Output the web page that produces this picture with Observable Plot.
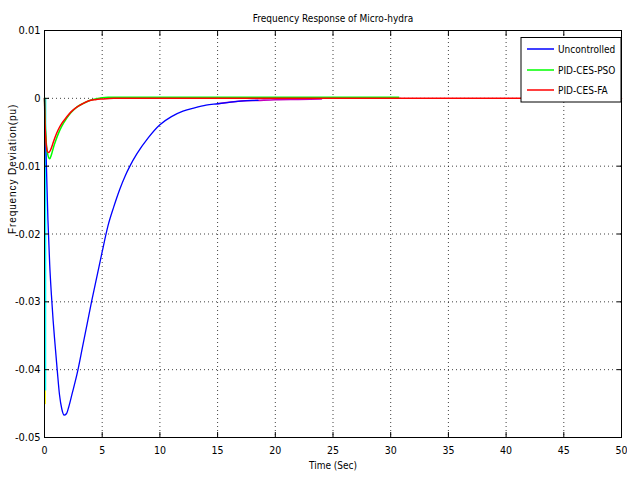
<!DOCTYPE html>
<html>
<head>
<meta charset="utf-8">
<script src="https://cdn.jsdelivr.net/npm/d3@7"></script>
<script src="https://cdn.jsdelivr.net/npm/@observablehq/plot@0.6"></script>
<style>
  body { margin: 0; background: #fff; }
  #chart { position: relative; width: 627px; height: 479px; }
</style>
</head>
<body>
<div id="chart"></div>
<script>
// ---- texts ----
const chartTitle = "Frequency Response of Micro-hydra";
const xLabel = "Time (Sec)";
const yLabel = "Frequency Deviation(pu)";

// ---- ticks ----
const xTicks = [0, 5, 10, 15, 20, 25, 30, 35, 40, 45, 50];
const yTicks = [0.01, 0, -0.01, -0.02, -0.03, -0.04, -0.05];
const yTickLabels = ["0.01", "0", "-0.01", "-0.02", "-0.03", "-0.04", "-0.05"];

// ---- legend ----
const seriesNames = ["Uncontrolled", "PID-CES-PSO", "PID-CES-FA"];
const seriesColors = ["#0000ff", "#00ff00", "#ff0000"];

// ---- series: Uncontrolled ----
const uncontrolledTime = [0, 0.05, 0.15, 0.3, 0.45, 0.6, 0.75, 0.9, 1.1, 1.3, 1.5, 1.7, 1.9, 2.1, 2.4, 2.85, 3.3, 3.7, 4.1, 4.6, 5.0, 5.5, 6.0, 6.5, 7.0, 7.4, 8, 9, 10, 11, 12, 13, 14, 15, 16, 17, 18.5];
const uncontrolledValue = [0, -0.003, -0.009, -0.018, -0.0245, -0.029, -0.0328, -0.036, -0.040, -0.0437, -0.0458, -0.0467, -0.0465, -0.0455, -0.0435, -0.0404, -0.0366, -0.0332, -0.0298, -0.0258, -0.0226, -0.0188, -0.016, -0.0135, -0.0114, -0.010, -0.0082, -0.0058, -0.0039, -0.0027, -0.0019, -0.0014, -0.0010, -0.0008, -0.0006, -0.0004, -0.0003];

// ---- series: PID-CES-PSO ----
const psoTime = [0, 0.05, 0.15, 0.3, 0.45, 0.6, 0.8, 1.0, 1.2, 1.5, 1.9, 2.3, 2.8, 3.3, 3.8, 4.4, 5.0, 5.5, 10, 20, 30.7];
const psoValue = [0, -0.003, -0.0065, -0.0084, -0.0089, -0.0083, -0.0071, -0.0061, -0.0052, -0.0041, -0.0030, -0.0021, -0.0013, -0.0008, -0.0004, -0.0001, 0.0001, 0.00015, 0.00015, 0.00015, 0.00015];

// ---- series: PID-CES-FA ----
const faTime = [0, 0.03, 0.12, 0.25, 0.36, 0.5, 0.7, 0.9, 1.2, 1.5, 1.9, 2.3, 2.8, 3.3, 3.8, 4.4, 5.0, 6, 50];
const faValue = [0, -0.0028, -0.0062, -0.0078, -0.0080, -0.0077, -0.0068, -0.0058, -0.0046, -0.0037, -0.0028, -0.0020, -0.0013, -0.0008, -0.0004, -0.0002, -0.0001, 0, 0];

// ---- unlabeled traces visible in the picture ----
const magentaTime = [15, 17, 18.5, 20, 22, 24];
const magentaValue = [-0.0008, -0.0004, -0.0003, -0.0002, -0.00015, -0.0001];
const yellowTime = [0.06, 0.07, 0.08];
const yellowValue = [0, -0.045, 0];
const cyanTime = [0.09, 0.1, 0.11];
const cyanValue = [0, -0.043, 0];

const toRows = (ts, vs) => ts.map((t, i) => ({t, v: vs[i]}));

const W = 627, H = 479;
const narrow = "'Liberation Sans Narrow', 'DejaVu Sans Condensed', 'Liberation Sans', sans-serif";
const dotted = {stroke: "#000", strokeOpacity: 0.75, strokeDasharray: "1,3"};
const lineOpts = (color, w = 1.3) => ({x: "t", y: "v", stroke: color, strokeWidth: w, curve: "monotone-x"});

const plot = Plot.plot({
  width: W,
  height: H,
  marginLeft: 44,
  marginRight: 6,
  marginTop: 30,
  marginBottom: 42,
  style: {fontFamily: narrow, fontSize: "11px", background: "white", color: "black", overflow: "visible"},
  x: {domain: [0, 50], label: null},
  y: {domain: [-0.05, 0.01], label: null},
  marks: [
    Plot.gridX(xTicks, dotted),
    Plot.gridY(yTicks, dotted),
    Plot.line(toRows(yellowTime, yellowValue), lineOpts("#ffff00", 1.2)),
    Plot.line(toRows(cyanTime, cyanValue), lineOpts("#00ffff", 1.2)),
    Plot.line(toRows(magentaTime, magentaValue), lineOpts("#c000c0", 1.6)),
    Plot.line(toRows(uncontrolledTime, uncontrolledValue), lineOpts(seriesColors[0])),
    Plot.line(toRows(psoTime, psoValue), lineOpts(seriesColors[1], 1.5)),
    Plot.line(toRows(faTime, faValue), lineOpts(seriesColors[2], 1.5)),
    Plot.frame({stroke: "black"}),
    // tick labels
    Plot.axisX(xTicks, {anchor: "bottom", tickSize: 0, tickPadding: 9, label: null, fontSize: 10.5}),
    Plot.axisY(yTicks, {anchor: "left", tickSize: 0, tickPadding: 4, label: null, fontSize: 11,
      tickFormat: d => yTickLabels[yTicks.indexOf(d)]}),
    // inward tick marks on all four sides
    Plot.axisX(xTicks, {anchor: "bottom", tickSize: -5, fill: "none", label: null}),
    Plot.axisX(xTicks, {anchor: "top", tickSize: -5, fill: "none", label: null}),
    Plot.axisY(yTicks, {anchor: "left", tickSize: -5, fill: "none", label: null}),
    Plot.axisY(yTicks, {anchor: "right", tickSize: -5, fill: "none", label: null}),
    // title and axis labels
    Plot.text([chartTitle], {frameAnchor: "top", text: d => d, dy: -16, fontSize: 10}),
    Plot.text([xLabel], {frameAnchor: "bottom", text: d => d, dy: 31, fontSize: 10}),
    Plot.text([yLabel], {frameAnchor: "left", text: d => d, dx: -32, rotate: -90, fontSize: 10,
      fontFamily: "'Liberation Sans', sans-serif"})
  ]
});

document.getElementById("chart").appendChild(plot);

const svg = d3.select(plot);
// widen the letter spacing of the y label, as in the reference
svg.selectAll("text").filter(function () { return this.textContent === yLabel; })
  .style("letter-spacing", "0.9px");

// ---- legend box (inside plot, top-right) ----
const lg = svg.append("g").attr("font-family", narrow).attr("font-size", 10).attr("text-anchor", "start");
lg.append("rect").attr("x", 521).attr("y", 37.5).attr("width", 100).attr("height", 64.5)
  .attr("fill", "white").attr("stroke", "black").attr("stroke-width", 1);
const rowY = [49, 70, 90];
seriesNames.forEach((name, i) => {
  lg.append("line").attr("x1", 527).attr("x2", 554).attr("y1", rowY[i]).attr("y2", rowY[i])
    .attr("stroke", seriesColors[i]).attr("stroke-width", 1.5);
  lg.append("text").attr("x", 558).attr("y", rowY[i]).attr("dy", "0.35em")
    .attr("text-anchor", "start").attr("fill", "black").text(name);
});
</script>
</body>
</html>
